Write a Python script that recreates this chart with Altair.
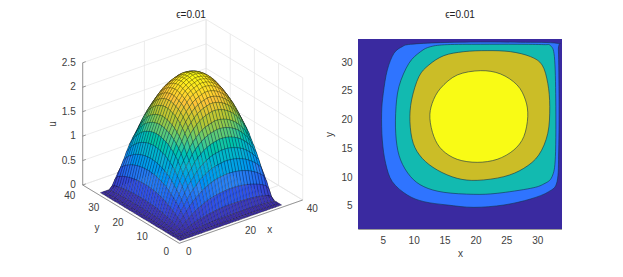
import altair as alt
import pandas as pd

# Surface profile (grid points 1..34)
grid = list(range(1, 35))
profile_x = [0, .005, .03, .09, .20, .31, .40, .50, .59, .66, .72, .79, .84, .88, .915, .945, .965,
             .98, .99, 1, 1, .995, .985, .97, .95, .925, .895, .855, .81, .76, .695, .625, .45, 0]
profile_y = [0, .005, .03, .10, .215, .33, .425, .51, .59, .66, .72, .79, .84, .88, .915, .945, .965,
             .98, .99, 1, 1, .995, .985, .97, .95, .925, .895, .855, .81, .76, .695, .625, .45, 0]
u_peak = 2.4
parula = ["#3a2a9e", "#2f50e8", "#2d87f7", "#12b1d6", "#37c897", "#abc739", "#fec338", "#f9fb15"]

# Contour polygons of the right panel (x, y)
background = "#3a2aa0"
c_blue = [(8.16,32.67),(9.51,33.08),(14.35,33.37),(20.82,33.48),(27.28,33.43),(33.2,33.25),(33.42,32.1),
          (33.53,23.4),(33.47,14.72),(33.2,9.22),(31.86,7.49),(28.9,6.21),(24.6,5.17),(19.74,4.76),(15.43,5.17),
          (11.66,5.75),(8.97,6.91),(6.55,9.22),(5.47,12.41),(4.93,16.46),(4.82,21.09),(5.09,24.57),(5.74,28.62),(6.82,31.52)]
c_teal = [(11.12,31.8),(12.74,32.67),(15.43,33.02),(20.82,33.08),(26.74,33.08),(31.05,33.02),(32.13,32.85),
          (32.77,30.94),(32.99,23.41),(32.93,13.56),(32.39,10.09),(31.05,8.82),(28.9,8.06),(23.51,7.2),(19.74,7.02),
          (14.89,7.37),(11.66,8.35),(9.51,10.09),(7.89,12.99),(7.19,16.46),(7.09,21.09),(7.62,25.73),(9.24,29.78)]
c_olive = [(10.85,27.46),(12.47,29.49),(14.89,31.11),(18.12,31.8),(21.89,31.98),(25.66,31.8),(28.9,30.94),
           (30.78,29.49),(31.7,26.3),(32.02,22.25),(31.7,17.62),(30.24,13.85),(27.82,11.54),(24.59,10.09),(20.28,9.45),
           (17.05,9.8),(13.82,11.25),(11.39,13.28),(9.94,15.88),(9.4,19.65),(9.67,23.41)]
c_yellow = [(20.82,28.5),(24.05,27.93),(26.74,26.01),(28.09,23.41),(28.46,20.51),(27.82,17.04),(26.2,14.72),
            (23.51,13.1),(20.28,12.58),(17.05,13.1),(14.62,14.72),(13.28,17.04),(12.63,20.22),(13.0,22.83),(14.35,25.44),(17.05,27.75)]
levels = [("a", c_blue, "#2f74ff"), ("b", c_teal, "#12bab0"), ("c", c_olive, "#cbbd27"), ("d", c_yellow, "#f9fb15")]

FONT = "Liberation Sans"
TXT = "#404040"
TITLE = "ϵ=0.01"


def proj(x, y, z=0.0):
    return 178.3 + 3.085 * x - 2.415 * y, -(243.3 - 1.0825 * x - 1.4575 * y - 48.9 * z)


# surface cells, painted back to front
rows = []
cells = [(i, j) for i in range(33) for j in range(33)]
cells.sort(key=lambda c: -(c[0] + c[1]))
for cid, (i, j) in enumerate(cells):
    corners = [(i, j), (i + 1, j), (i + 1, j + 1), (i, j + 1), (i, j)]
    us = [u_peak * profile_x[a] * profile_y[b] for a, b in corners]
    mean_u = sum(us[:4]) / 4
    for k, ((a, b), uu) in enumerate(zip(corners, us)):
        px, py = proj(grid[a], grid[b], uu)
        rows.append({"cell": cid, "k": k, "px": round(px, 2), "py": round(py, 2), "u": round(mean_u, 3)})
surface_df = pd.DataFrame(rows)

# walls and axes
grid_rows, axis_rows = [], []
def seg(store, gid, a, b):
    for k, p in enumerate((a, b)):
        px, py = proj(*p)
        store.append({"id": gid, "k": k, "px": px, "py": py})

n = 0
z_ticks = [0, .5, 1, 1.5, 2, 2.5]
for z in z_ticks:
    seg(grid_rows, n, (0, 40, z), (40, 40, z)); n += 1
    seg(grid_rows, n, (40, 40, z), (40, 0, z)); n += 1
for v in [0, 20, 40]:
    seg(grid_rows, n, (v, 40, 0), (v, 40, 2.5)); n += 1
    seg(grid_rows, n, (v, 0, 0), (v, 40, 0)); n += 1
for v in [0, 10, 20, 30, 40]:
    seg(grid_rows, n, (40, v, 0), (40, v, 2.5)); n += 1
    seg(grid_rows, n, (0, v, 0), (40, v, 0)); n += 1
seg(axis_rows, 0, (0, 0, 0), (40, 0, 0))
seg(axis_rows, 1, (0, 0, 0), (0, 40, 0))
seg(axis_rows, 2, (0, 40, 0), (0, 40, 2.5))
for z in z_ticks:
    seg(axis_rows, 10 + int(z * 2), (0, 40, z), (1.0, 40, z))

def label_df(items):
    out = []
    for text, p in items:
        px, py = proj(*p)
        out.append({"t": text, "px": px, "py": py})
    return pd.DataFrame(out)

x3 = alt.X("px:Q", axis=None, scale=alt.Scale(domain=[60, 330], nice=False, zero=False))
y3 = alt.Y("py:Q", axis=None, scale=alt.Scale(domain=[-229, -39], nice=False, zero=False))

def text3d(items, **kw):
    return alt.Chart(label_df(items)).mark_text(font=FONT, fontSize=10, color=TXT, **kw).encode(x=x3, y=y3, text="t:N")

left = alt.layer(
    alt.Chart(pd.DataFrame(grid_rows)).mark_line(color="#e4e4e4", strokeWidth=0.7).encode(x=x3, y=y3, detail="id:N", order="k:Q"),
    alt.Chart(pd.DataFrame(axis_rows)).mark_line(color="#707070", strokeWidth=0.7).encode(x=x3, y=y3, detail="id:N", order="k:Q"),
    alt.Chart(surface_df).mark_line(filled=True, stroke="#000000", strokeWidth=0.4, strokeOpacity=0.6).encode(
        x=x3, y=y3, detail="cell:N", order="k:Q",
        fill=alt.Fill("u:Q", legend=None, scale=alt.Scale(domain=[u_peak * i / 7 for i in range(8)], range=parula))),
    text3d([(str(z), (0, 40, z)) for z in z_ticks], align="right", dx=-7, baseline="middle"),
    text3d([(str(v), (v, 0, 0)) for v in [0, 20, 40]], align="center", dx=9.5, dy=9, baseline="middle"),
    text3d([(str(v), (0, v, 0)) for v in [0, 10, 20, 30]], align="center", dx=-13, dy=8.5, baseline="middle"),
    text3d([("40", (0, 40, 0))], align="center", dx=-13, dy=10.5, baseline="middle"),
    text3d([("x", (30, 0, 0))], align="center", dx=-2, dy=19, baseline="middle"),
    text3d([("y", (0, 27, 0))], align="center", dx=-17, dy=24, baseline="middle"),
    text3d([("u", (0, 40, 1.25))], align="center", dy=-30, baseline="middle", angle=270),
).properties(width=270, height=190, title=alt.TitleParams(TITLE, font=FONT, fontSize=10, fontWeight="normal", color="#222222", offset=-2, dx=-5, frame="group"))

xs = alt.X("x:Q", title="x", scale=alt.Scale(domain=[1, 34], nice=False, zero=False),
           axis=alt.Axis(values=[5, 10, 15, 20, 25, 30], grid=False, tickSize=0, labelPadding=6, domainColor="#9a9a9a",
                         labelFont=FONT, labelFontSize=10, labelColor=TXT, titleFont=FONT, titleFontSize=10,
                         titleFontWeight="normal", titleColor=TXT, titlePadding=3))
ys = alt.Y("y:Q", title="y", scale=alt.Scale(domain=[1, 34], nice=False, zero=False),
           axis=alt.Axis(values=[5, 10, 15, 20, 25, 30], grid=False, tickSize=0, labelPadding=6, domainColor="#9a9a9a",
                         labelFont=FONT, labelFontSize=10, labelColor=TXT, titleFont=FONT, titleFontSize=10,
                         titleFontWeight="normal", titleColor=TXT, titlePadding=6))

right_layers = [alt.Chart(pd.DataFrame({"x": [1], "x2": [34], "y": [1], "y2": [34]})).mark_rect(color=background).encode(
    x=xs, x2="x2:Q", y=ys, y2="y2:Q")]
for name, poly, col in levels:
    df = pd.DataFrame([{"x": a, "y": b, "k": k} for k, (a, b) in enumerate(poly)])
    right_layers.append(alt.Chart(df).mark_line(filled=True, interpolate="cardinal-closed", fill=col, stroke="#14304a",
                                                strokeWidth=0.6).encode(x=xs, y=ys, order="k:Q"))
right = alt.layer(*right_layers).properties(width=204, height=190, title=alt.TitleParams(
    TITLE, font=FONT, fontSize=10, fontWeight="normal", color="#222222", offset=19, frame="group"))

chart = alt.hconcat(left, right, spacing=27, bounds="flush").properties(
    padding={"left": 39, "top": 2, "right": 0, "bottom": 0}
).configure_view(stroke=None)

chart.save("out.html", embed_options={"renderer": "svg", "actions": False})
